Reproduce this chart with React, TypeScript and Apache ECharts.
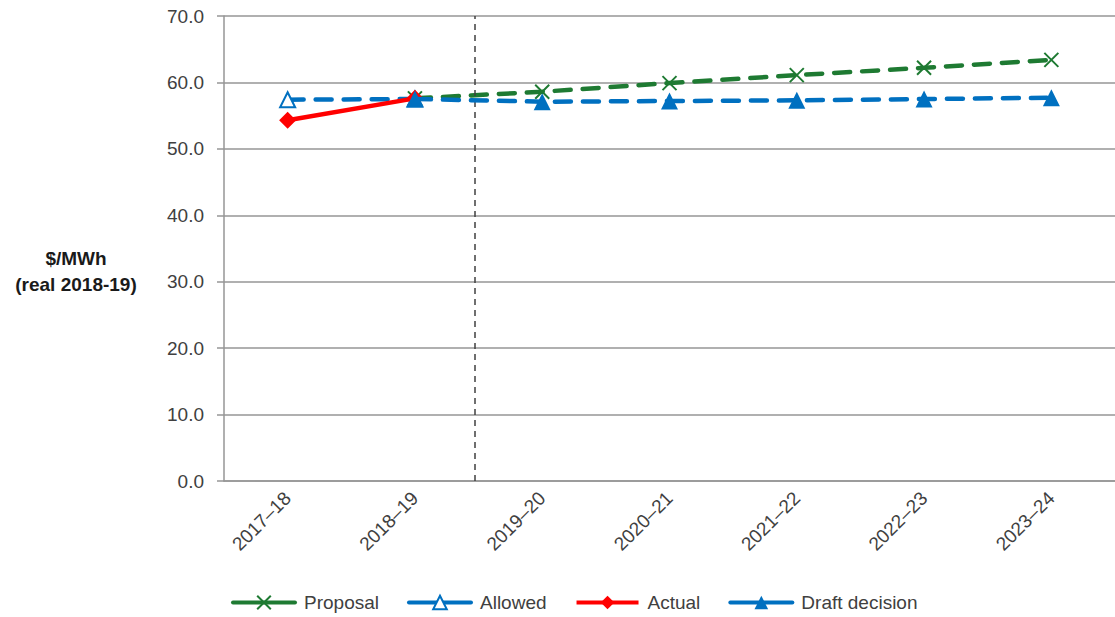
import React, { useEffect, useRef } from "react";
import * as echarts from "echarts";

// Financial years on the category axis
const years = ["2017–18", "2018–19", "2019–20", "2020–21", "2021–22", "2022–23", "2023–24"];

// $/MWh (real 2018-19)
const proposal = [null, 57.6, 58.6, 59.9, 61.1, 62.2, 63.4];
const allowed = [57.4, 57.5, null, null, null, null, null];
const actual = [54.3, 57.6, null, null, null, null, null];
const draftDecision = [null, 57.5, 57.1, 57.2, 57.3, 57.5, 57.7];

// Divider between the current and next regulatory period (category index units)
const periodDivider = 1.47;

const yTicks = { min: 0, max: 70, interval: 10 };

const FONT = "Liberation Sans";
const TEXT = "#404040";
const GREEN = "#1E7A32";
const BLUE = "#0070C0";
const RED = "#FF0000";

const crossSymbol = "path://M0,0 L10,10 M10,0 L0,10";

export default function App() {
  const ref = useRef<HTMLDivElement>(null);

  useEffect(() => {
    if (!ref.current) return;
    const chart = echarts.init(ref.current, undefined, { renderer: "svg" });

    const dashed = [16, 12];

    chart.setOption({
      animation: false,
      backgroundColor: "#ffffff",
      textStyle: { fontFamily: FONT, color: TEXT },
      grid: { left: 224, right: -5, top: 16, bottom: 136 },
      legend: {
        bottom: 0,
        left: 226,
        itemWidth: 62,
        itemHeight: 17,
        itemGap: 28,
        lineStyle: { width: 4, type: "solid" },
        textStyle: { fontFamily: FONT, fontSize: 19, color: TEXT, padding: [0, 0, 0, 4] },
        data: ["Proposal", "Allowed", "Actual", "Draft decision"],
      },
      graphic: [
        {
          type: "text",
          x: 76,
          y: 245,
          style: {
            text: "$/MWh\n(real 2018-19)",
            fontFamily: FONT,
            fontSize: 19,
            fontWeight: "bold",
            fill: "#1a1a1a",
            align: "center",
            lineHeight: 26,
          },
        },
      ],
      xAxis: [
        {
          type: "category",
          data: years,
          boundaryGap: true,
          axisLine: { lineStyle: { color: "#969696", width: 1.5 } },
          axisTick: { alignWithLabel: false, length: 6, lineStyle: { color: "#969696", width: 1.5 } },
          axisLabel: {
            rotate: 45,
            fontFamily: FONT,
            fontSize: 19,
            color: TEXT,
            margin: 14,
          },
          splitLine: { show: false },
        },
        {
          type: "value",
          min: -0.5,
          max: 6.5,
          show: false,
        },
      ],
      yAxis: {
        type: "value",
        min: yTicks.min,
        max: yTicks.max,
        interval: yTicks.interval,
        axisLine: { show: true, onZero: false, lineStyle: { color: "#969696", width: 1.5 } },
        axisTick: { show: true, inside: false, length: 7, lineStyle: { color: "#969696", width: 1.5 } },
        axisLabel: {
          fontFamily: FONT,
          fontSize: 19,
          color: TEXT,
          margin: 20,
          formatter: (v: number) => v.toFixed(1),
        },
        splitLine: { lineStyle: { color: "#969696", width: 1.5 } },
      },
      series: [
        {
          name: "Proposal",
          type: "line",
          data: proposal,
          symbol: crossSymbol,
          symbolSize: 14,
          showAllSymbol: true,
          connectNulls: false,
          lineStyle: { color: GREEN, width: 4.5, type: dashed, cap: "round" },
          itemStyle: { color: GREEN, borderColor: GREEN, borderWidth: 2 },
          z: 2,
        },
        {
          name: "Allowed",
          type: "line",
          data: allowed,
          symbol: "emptyTriangle",
          symbolSize: 15,
          lineStyle: { color: BLUE, width: 4.5, type: dashed, cap: "round" },
          itemStyle: { color: BLUE, borderColor: BLUE, borderWidth: 2 },
          z: 3,
        },
        {
          name: "Actual",
          type: "line",
          data: actual,
          symbol: "diamond",
          symbolSize: 17,
          lineStyle: { color: RED, width: 4.5 },
          itemStyle: { color: RED },
          z: 4,
        },
        {
          name: "Draft decision",
          type: "line",
          data: draftDecision,
          symbol: "triangle",
          symbolSize: 17,
          lineStyle: { color: BLUE, width: 4.5, type: dashed, cap: "round" },
          itemStyle: { color: BLUE },
          z: 5,
        },
        {
          name: "divider",
          type: "line",
          xAxisIndex: 1,
          data: [],
          silent: true,
          markLine: {
            silent: true,
            symbol: "none",
            label: { show: false },
            lineStyle: { color: "#404040", type: [6, 5], width: 1.5 },
            data: [{ xAxis: periodDivider }],
          },
        },
      ],
    });

    return () => chart.dispose();
  }, []);

  return (
    <div
      ref={ref}
      style={{ position: "fixed", left: 0, top: 0, width: 1115, height: 617, background: "#fff" }}
    />
  );
}
